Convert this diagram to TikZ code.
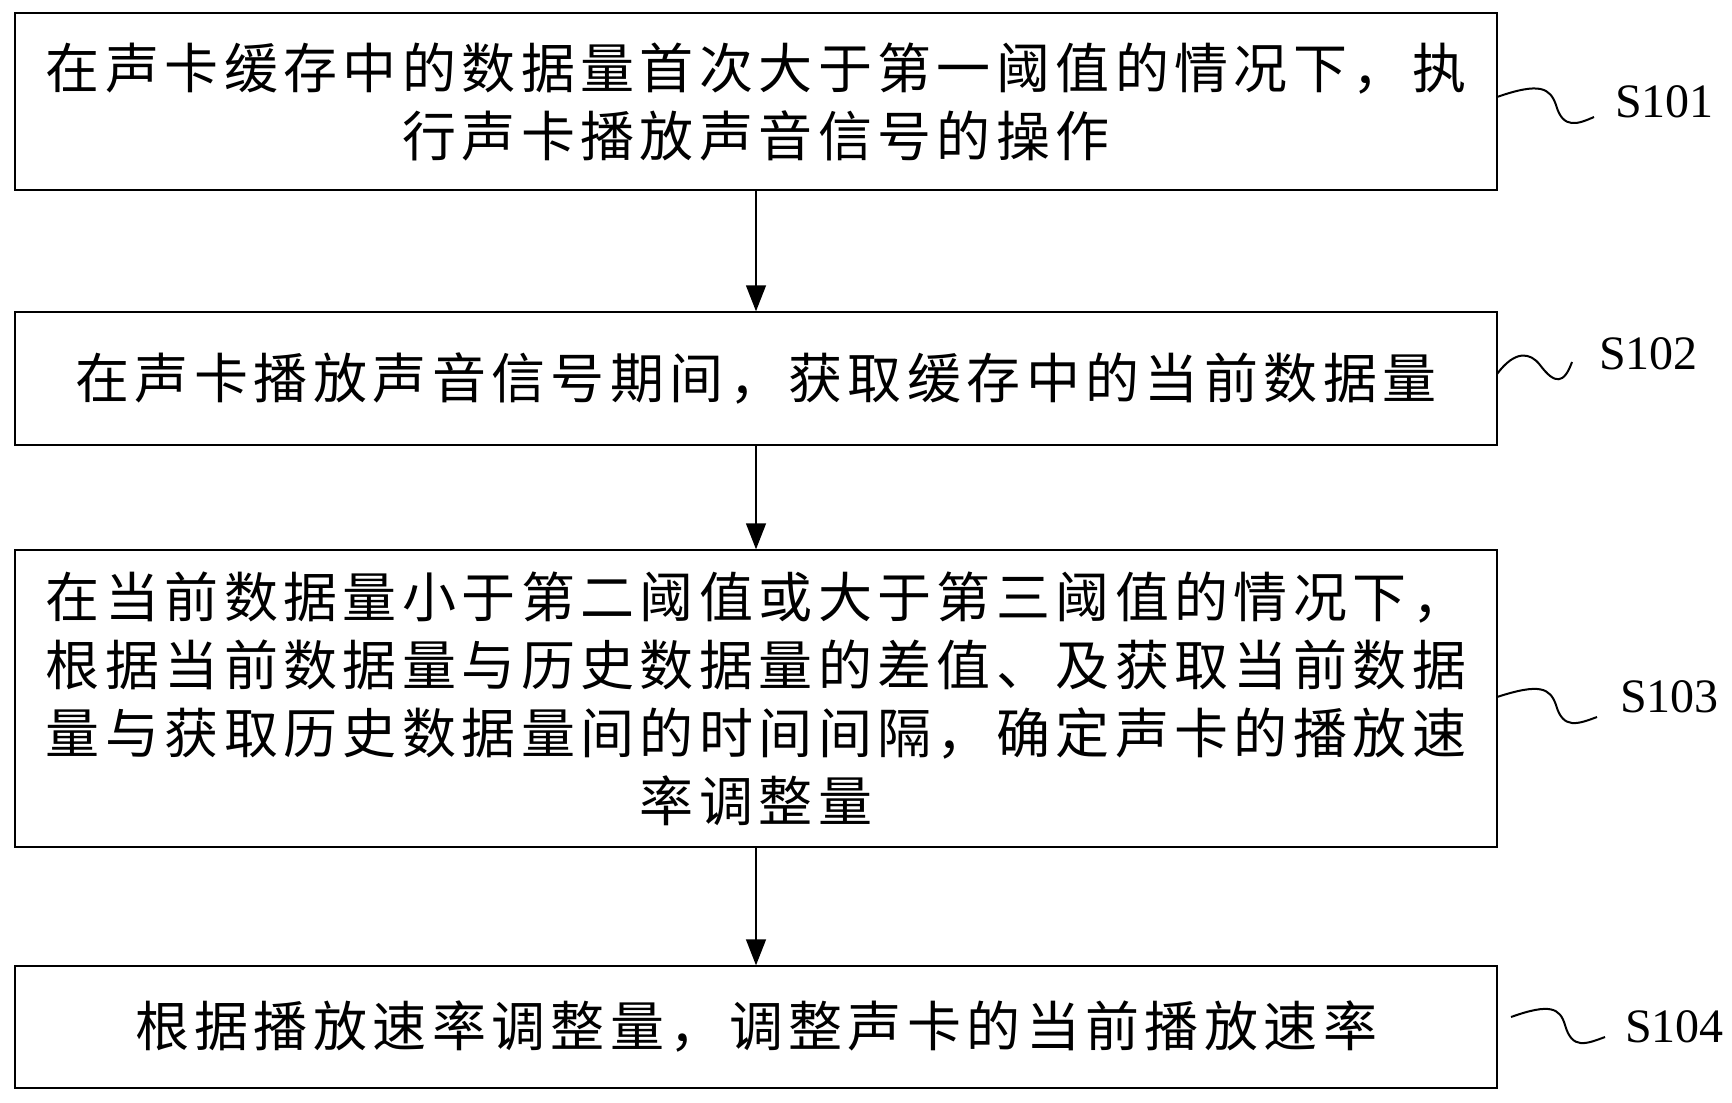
\documentclass[tikz,border=0pt]{standalone}
\usepackage{fontspec}
\setmainfont{Liberation Serif}
\newfontfamily\cjk[LetterSpace=10]{Noto Sans CJK SC}
\usetikzlibrary{arrows.meta}
\begin{document}
\begin{tikzpicture}[x=0.5pt,y=-0.5pt,
  box/.style={draw,line width=0.7pt,minimum width=741pt,align=center,font=\cjk\fontsize{27}{34}\selectfont,inner sep=0pt},
  arr/.style={-{Triangle[length=13pt,width=10pt]},line width=0.7pt},
  lab/.style={font=\fontsize{24}{26}\selectfont,anchor=west},
  sq/.style={line width=1pt}]
\useasboundingbox (0,0) rectangle (1732,1102);
\node[box,minimum height=88.5pt] (b1) at (756,101.5) {在声卡缓存中的数据量首次大于第一阈值的情况下，执\\行声卡播放声音信号的操作};
\node[box,minimum height=66.5pt] (b2) at (756,378.5) {在声卡播放声音信号期间，获取缓存中的当前数据量};
\node[box,minimum height=148.5pt] (b3) at (756,698.5) {在当前数据量小于第二阈值或大于第三阈值的情况下，\\根据当前数据量与历史数据量的差值、及获取当前数据\\量与获取历史数据量间的时间间隔，确定声卡的播放速\\率调整量};
\node[box,minimum height=61pt] (b4) at (756,1027) {根据播放速率调整量，调整声卡的当前播放速率};
\draw[arr] (b1) -- (b2);
\draw[arr] (b2) -- (b3);
\draw[arr] (b3) -- (b4);
\coordinate (c1) at (1497,97);
\draw[sq] (c1) .. controls (1540,82) and (1550,88) .. (1556,105) .. controls (1563,130) and (1578,124) .. (1594,117);
\node[lab] (s1) at (1608,102) {S101};
\coordinate (c2) at (1497,374);
\draw[sq] (c2) .. controls (1515,350) and (1530,352) .. (1540,365) .. controls (1555,385) and (1564,384) .. (1572,362);
\node[lab] (s2) at (1592,354) {S102};
\coordinate (c3) at (1497,697);
\draw[sq] (c3) .. controls (1540,683) and (1550,688) .. (1556,705) .. controls (1563,730) and (1578,724) .. (1597,717);
\node[lab] (s3) at (1613,697) {S103};
\coordinate (c4) at (1511,1017);
\draw[sq] (c4) .. controls (1550,1003) and (1560,1008) .. (1565,1025) .. controls (1572,1050) and (1586,1044) .. (1605,1037);
\node[lab] (s4) at (1618,1027) {S104};
\end{tikzpicture}
\end{document}
